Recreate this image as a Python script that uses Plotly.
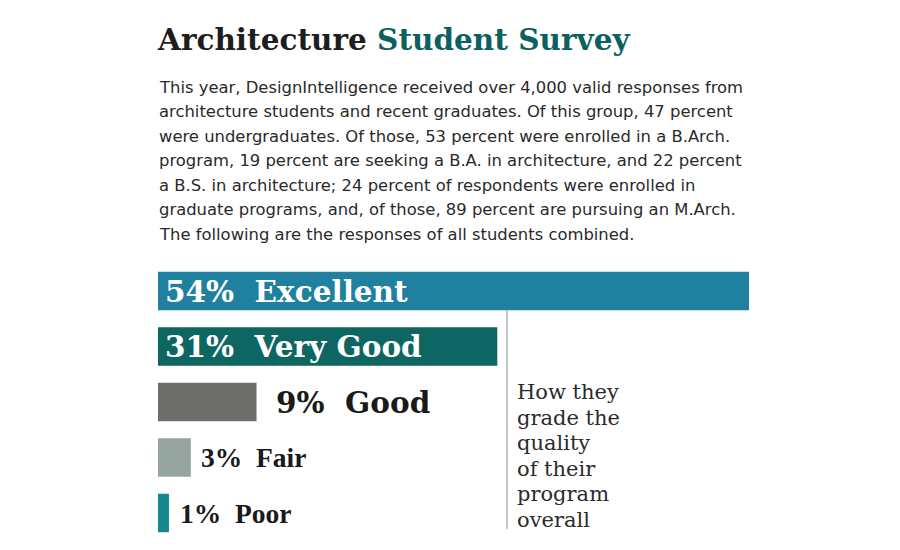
import plotly.graph_objects as go

W, H = 900, 550

categories = ["Excellent", "Very Good", "Good", "Fair", "Poor"]
values = [54, 31, 9, 3, 1]
bar_colors = ["#20809f", "#0e6663", "#6d6d6b", "#97a5a0", "#17878f"]
label_texts = ["54%  Excellent", "31%  Very Good", "9%  Good", "3%  Fair", "1%  Poor"]

title_black = "Architecture"
title_teal = "Student Survey"
body_lines = [
    "This year, DesignIntelligence received over 4,000 valid responses from",
    "architecture students and recent graduates. Of this group, 47 percent",
    "were undergraduates. Of those, 53 percent were enrolled in a B.Arch.",
    "program, 19 percent are seeking a B.A. in architecture, and 22 percent",
    "a B.S. in architecture; 24 percent of respondents were enrolled in",
    "graduate programs, and, of those, 89 percent are pursuing an M.Arch.",
    "The following are the responses of all students combined.",
]
side_lines = ["How they", "grade the", "quality", "of their", "program", "overall"]


def py(p):
    return 1 - p / H


def px(p):
    return p / W


fig = go.Figure(
    go.Bar(
        x=values,
        y=categories,
        orientation="h",
        marker=dict(color=bar_colors, line=dict(width=0)),
        width=0.69,
        hoverinfo="skip",
    )
)

fig.update_layout(
    width=W,
    height=H,
    margin=dict(l=0, r=0, t=0, b=0),
    paper_bgcolor="white",
    plot_bgcolor="white",
    showlegend=False,
    xaxis=dict(domain=[px(158), px(749)], range=[0, 54], visible=False, fixedrange=True),
    yaxis=dict(
        domain=[py(540.75), py(263.25)],
        range=[4.5, -0.5],
        visible=False,
        fixedrange=True,
        categoryorder="array",
        categoryarray=categories,
    ),
)

annotations = []

# Title
annotations.append(
    dict(
        x=px(155), y=py(39), xref="paper", yref="paper", xanchor="left", yanchor="middle",
        text=f"<b><span style='color:#1e1e1e'>{title_black}</span> <span style='color:#0d6062'>{title_teal}</span></b>",
        showarrow=False,
        font=dict(family="DejaVu Serif", size=29.5),
    )
)

# Body text
for i, line in enumerate(body_lines):
    annotations.append(
        dict(
            x=px(157), y=py(87 + 24.5 * i), xref="paper", yref="paper",
            xanchor="left", yanchor="middle", text=line, showarrow=False,
            font=dict(family="DejaVu Sans", size=16.4, color="#2a2a2a"),
        )
    )

# Bar labels
inside = [True, True, False, False, False]
shifts = [5, 5, 17, 8, 9]
fonts = [
    dict(family="DejaVu Serif", size=29.5, weight="bold", color="white"),
    dict(family="DejaVu Serif", size=29.5, weight="bold", color="white"),
    dict(family="DejaVu Serif", size=29.5, weight="bold", color="#1a1a1a"),
    dict(family="Liberation Serif", size=27.5, weight="bold", color="#1a1a1a"),
    dict(family="Liberation Serif", size=27.5, weight="bold", color="#1a1a1a"),
]
for cat, val, txt, ins, sh, f in zip(categories, values, label_texts, inside, shifts, fonts):
    annotations.append(
        dict(
            x=0 if ins else val, y=cat, xref="x", yref="y", xanchor="left", yanchor="middle",
            xshift=sh, text=txt, showarrow=False, font=f,
        )
    )

# Side note
for i, line in enumerate(side_lines):
    annotations.append(
        dict(
            x=px(515), y=py(392 + 25.6 * i), xref="paper", yref="paper",
            xanchor="left", yanchor="middle", text=line, showarrow=False,
            font=dict(family="DejaVu Serif", size=21, color="#2b2b2b"),
        )
    )

fig.update_layout(annotations=annotations)

fig.add_shape(
    type="line", xref="paper", yref="paper",
    x0=px(507), x1=px(507), y0=py(310), y1=py(529),
    line=dict(color="#b3b3b3", width=1.5),
)

fig.write_html("out.html")
